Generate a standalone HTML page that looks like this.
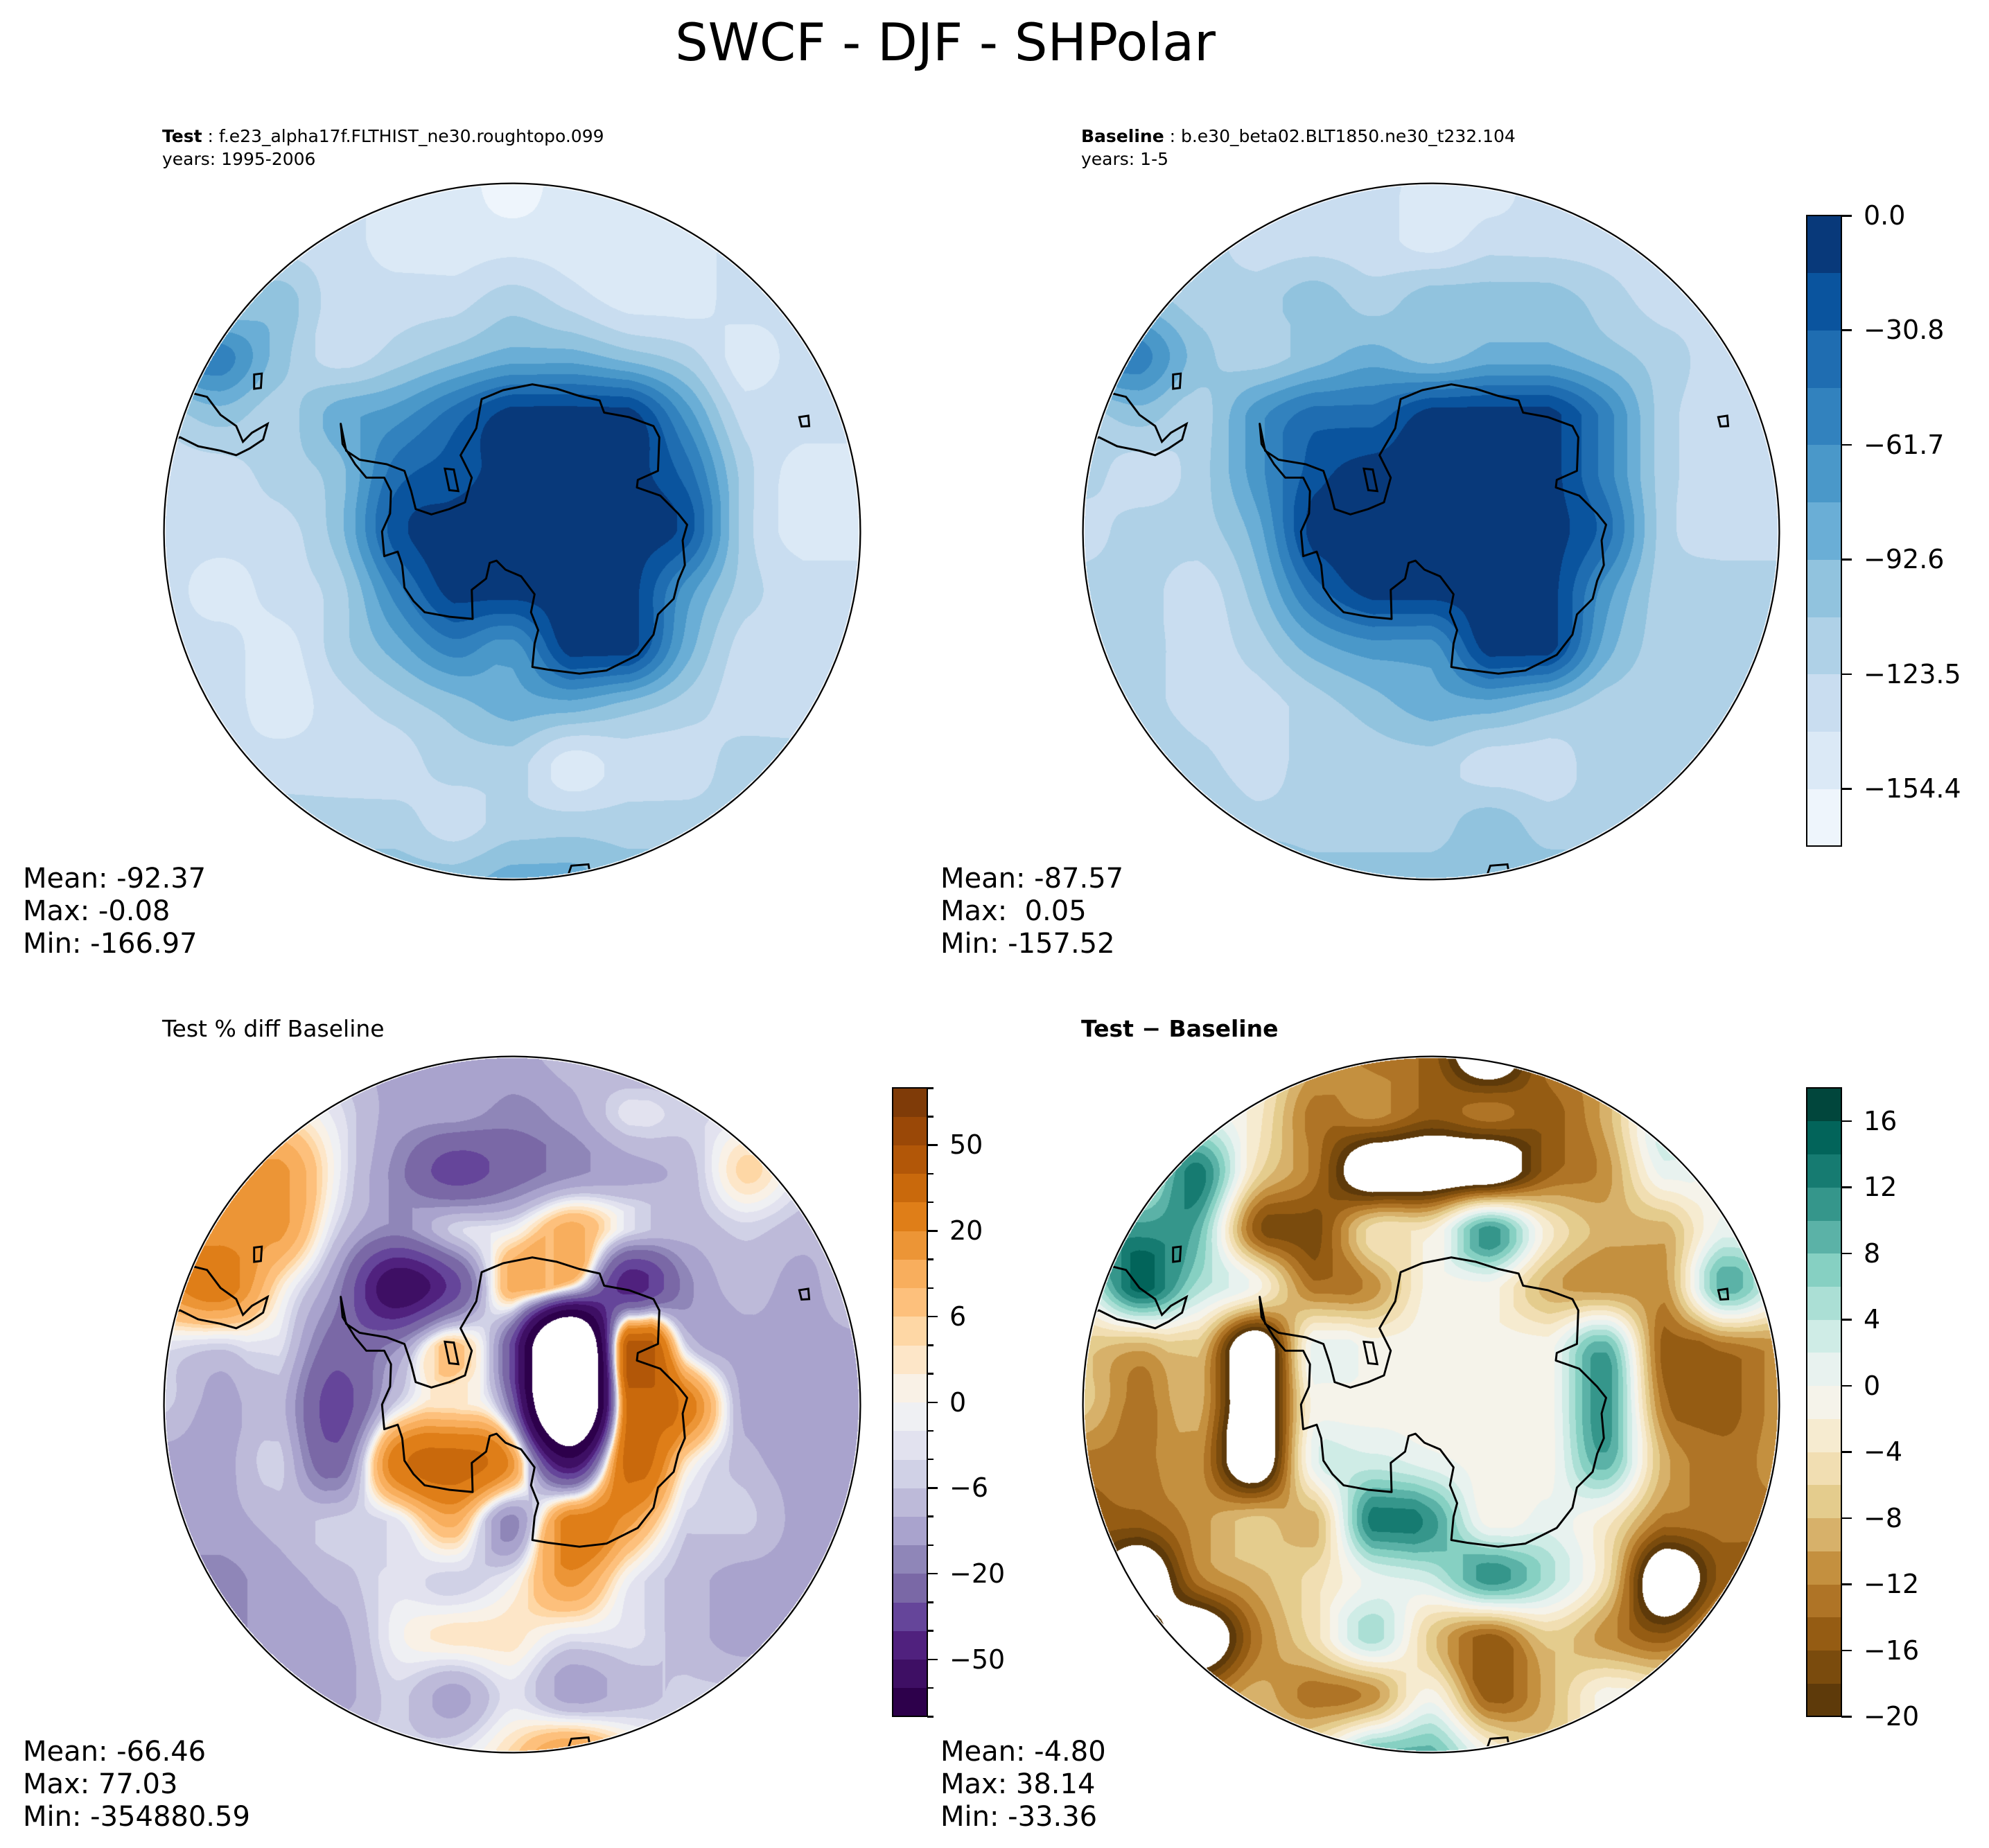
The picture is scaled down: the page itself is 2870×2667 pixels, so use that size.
<!DOCTYPE html>
<html><head><meta charset="utf-8"><title>SWCF - DJF - SHPolar</title>
<style>
html,body{margin:0;padding:0;background:#fff;}
#page{position:relative;width:2870px;height:2667px;overflow:hidden;background:#fff;font-family:"DejaVu Sans","Liberation Sans",sans-serif;color:#000;}
.abs{position:absolute;white-space:nowrap;}
.map{position:absolute;width:1010px;height:1010px;}
.map canvas,.map svg{position:absolute;left:0;top:0;width:1010px;height:1010px;}
.stat{position:absolute;font-size:40px;line-height:47px;white-space:pre;}
.sub{position:absolute;font-size:25px;line-height:33px;white-space:nowrap;}
.cbar{position:absolute;border:2.5px solid #000;box-sizing:border-box;}
.tick{position:absolute;height:2.5px;background:#000;}
.tlab{position:absolute;font-size:38px;line-height:38px;white-space:nowrap;transform:translateY(-50%);}
</style></head>
<body>
<div id="page">
  <div class="abs" style="left:0;width:2728px;text-align:center;top:18px;font-size:75px;line-height:86px;">SWCF - DJF - SHPolar</div>

  <div class="sub" style="left:234px;top:180px;"><b>Test</b> : f.e23_alpha17f.FLTHIST_ne30.roughtopo.099<br>years: 1995-2006</div>
  <div class="sub" style="left:1560px;top:180px;"><b>Baseline</b> : b.e30_beta02.BLT1850.ne30_t232.104<br>years: 1-5</div>
  <div class="abs" style="left:234px;top:1466px;font-size:33px;line-height:38px;">Test % diff Baseline</div>
  <div class="abs" style="left:1560px;top:1466px;font-size:33px;line-height:38px;font-weight:bold;">Test − Baseline</div>

  <div class="map" style="left:234px;top:262px;"><canvas id="c0" width="1010" height="1010"></canvas><svg id="s0" viewBox="0 0 1560 1560"></svg></div>
  <div class="map" style="left:1560px;top:262px;"><canvas id="c1" width="1010" height="1010"></canvas><svg id="s1" viewBox="0 0 1560 1560"></svg></div>
  <div class="map" style="left:234px;top:1522px;"><canvas id="c2" width="1010" height="1010"></canvas><svg id="s2" viewBox="0 0 1560 1560"></svg></div>
  <div class="map" style="left:1560px;top:1522px;"><canvas id="c3" width="1010" height="1010"></canvas><svg id="s3" viewBox="0 0 1560 1560"></svg></div>

  <div class="stat" style="left:33px;top:1245px;">Mean: -92.37
Max: -0.08
Min: -166.97</div>
  <div class="stat" style="left:1357px;top:1245px;">Mean: -87.57
Max:  0.05
Min: -157.52</div>
  <div class="stat" style="left:33px;top:2505px;">Mean: -66.46
Max: 77.03
Min: -354880.59</div>
  <div class="stat" style="left:1357px;top:2505px;">Mean: -4.80
Max: 38.14
Min: -33.36</div>

  <div id="cb0" class="abs" style="left:2607px;top:311px;width:50px;height:910px;"></div>
  <div id="cb2" class="abs" style="left:1288px;top:1570px;width:50px;height:907px;"></div>
  <div id="cb3" class="abs" style="left:2607px;top:1570px;width:50px;height:907px;"></div>
</div>
<script>
// ---------- data (grid samples, 13x13 over each map's bounding square) ----------
const testValues = [
[-131,-131,-131,-131,-147,-147,-162,-147,-147,-147,-131,-131,-131],
[-116,-116,-131,-131,-147,-147,-147,-147,-147,-147,-131,-131,-131],
[-100,-116,-100,-131,-131,-131,-116,-131,-147,-147,-131,-131,-131],
[-69,-54,-100,-131,-116,-100,-85,-85,-100,-116,-147,-131,-131],
[-116,-100,-116,-85,-69,-39,-8,-8,-8,-69,-131,-131,-131],
[-131,-131,-116,-100,-39,-23,-8,-8,-8,-39,-116,-147,-147],
[-131,-131,-131,-100,-23,-8,-8,-8,-8,-23,-116,-147,-147],
[-131,-147,-131,-116,-54,-8,-8,-8,-8,-69,-116,-131,-131],
[-131,-131,-147,-116,-85,-54,-69,-8,-8,-85,-131,-131,-131],
[-131,-131,-147,-131,-116,-100,-85,-85,-100,-116,-131,-131,-131],
[-116,-131,-131,-131,-131,-116,-116,-147,-131,-131,-116,-116,-116],
[-100,-100,-116,-116,-116,-131,-116,-116,-116,-116,-116,-100,-100],
[-100,-100,-100,-100,-100,-100,-85,-85,-100,-100,-100,-100,-100]];
const baselineValues = [
[-116,-116,-116,-116,-131,-131,-147,-147,-131,-131,-131,-131,-131],
[-116,-116,-116,-131,-131,-131,-147,-131,-131,-131,-131,-131,-131],
[-100,-100,-116,-116,-100,-116,-100,-100,-100,-116,-131,-131,-131],
[-54,-54,-100,-116,-100,-85,-100,-85,-85,-100,-116,-131,-131],
[-116,-100,-116,-69,-39,-39,-8,-8,-8,-54,-116,-131,-131],
[-116,-131,-116,-69,-23,-8,-8,-8,-8,-54,-116,-131,-131],
[-131,-116,-116,-85,-8,-8,-8,-8,-8,-39,-116,-131,-131],
[-116,-116,-131,-100,-39,-8,-8,-8,-8,-69,-116,-116,-116],
[-116,-116,-131,-116,-85,-69,-69,-8,-8,-85,-116,-116,-116],
[-116,-116,-131,-131,-116,-100,-85,-85,-100,-116,-116,-116,-116],
[-100,-100,-116,-131,-116,-116,-116,-131,-131,-116,-116,-116,-100],
[-100,-100,-100,-116,-116,-116,-116,-100,-116,-116,-116,-100,-100],
[-100,-100,-100,-85,-100,-100,-100,-100,-100,-100,-100,-100,-100]];
const pdiffValues = [
[-8,-8,-8,-8,-12,-12,-12,-8,-12,-12,-8,-8,-8],
[3,3,3,-3,-12,-12,-17,-12,-3,-5,-3,-3,-3],
[17,12,17,-1,-17,-35,-25,-17,-12,-8,5,-3,-3],
[17,17,17,-5,-17,-5,-1,12,-3,-8,-5,-8,-8],
[17,25,3,-17,-60,-35,12,-1,-45,-17,-8,-12,-3],
[-3,-5,-3,-25,-17,8,-35,-200,45,-5,-12,-12,-12],
[-5,-12,-8,-35,-5,3,-25,-200,35,25,-12,-12,-12],
[-12,-12,-5,-25,25,35,17,-60,35,3,-8,-12,-12],
[-12,-12,-8,-5,-3,12,-17,25,17,-5,-5,-12,-12],
[-17,-17,-12,-8,-3,-5,-1,17,-1,-8,-12,-12,-12],
[-17,-17,-12,-12,-1,3,3,-3,-3,-8,-12,-8,-8],
[-12,-12,-8,-12,-5,-12,-3,-12,-8,-5,-5,-8,-8],
[-8,-8,-8,-5,-5,-3,5,17,5,-5,-5,-8,-8]];
const diffValues = [
[-3,-3,-3,-3,-9,-13,-15,-26,-13,-11,-7,-3,-3],
[1,1,1,-3,-13,-11,-15,-13,-15,-9,3,-1,-1],
[5,1,13,-5,-13,-26,-26,-26,-15,-11,1,-1,-1],
[11,11,9,-15,-17,-5,-3,11,-3,-9,-9,1,1],
[1,15,5,-1,-13,-11,-1,-1,-9,-11,-11,9,1],
[-7,-9,-7,-26,1,-1,-1,-1,-1,9,-15,-13,-11],
[-7,-13,-9,-26,-1,-1,-1,-1,-1,11,-13,-15,-11],
[-13,-13,-11,-26,1,3,1,-1,-1,9,-9,-13,-11],
[-15,-15,-11,-7,-9,13,11,-1,1,-3,-13,-13,-13],
[-15,-26,-13,-9,-5,1,3,11,5,-5,-26,-15,-15],
[-13,-13,-26,-13,-5,5,-7,-15,-7,-11,-15,-7,-7],
[-11,-11,-13,-9,-13,-11,-1,-15,-9,-1,-3,-3,-3],
[-7,-7,-7,-7,-3,9,9,-1,-7,-3,-3,-3,-3]];
// contour levels and tick labels
const bluesLevels = [-169.8,-154.36,-138.93,-123.49,-108.05,-92.62,-77.18,-61.75,-46.31,-30.87,-15.44,0];
const bluesTicks = [0.0,-30.8,-61.7,-92.6,-123.5,-154.4];
const pdiffLevels = [-100,-70,-50,-40,-30,-20,-15,-10,-6,-4,-2,0,2,4,6,10,15,20,30,40,50,70,100];
const pdiffTicks = [-50,-20,-6,0,6,20,50];
const diffLevels = [-20,-18,-16,-14,-12,-10,-8,-6,-4,-2,0,2,4,6,8,10,12,14,16,18];
const diffTicks = [-20,-16,-12,-8,-4,0,4,8,12,16];
// coastline outlines (map-space units, 0..1560)
const antarctica = [[398,540],[410,600],[440,620],[500,630],[540,645],[555,690],[565,730],[600,742],[640,730],[675,715],[690,660],[665,610],[700,550],[712,485],[760,465],[825,452],[880,462],[930,478],[975,488],[985,515],[1040,525],[1095,545],[1108,570],[1105,645],[1060,665],[1058,682],[1110,700],[1150,740],[1170,765],[1160,800],[1165,855],[1150,890],[1140,930],[1105,965],[1095,1010],[1060,1055],[990,1090],[930,1097],[860,1088],[825,1082],[830,1030],[838,1000],[822,960],[830,920],[800,880],[765,865],[745,845],[730,850],[722,885],[690,910],[692,975],[640,970],[585,960],[560,935],[540,905],[535,855],[525,825],[495,835],[490,780],[508,740],[510,690],[495,660],[455,660],[430,630],[402,585]];
const southAmerica = [[60,470],[100,480],[130,520],[165,545],[180,580],[200,560],[235,540],[225,575],[195,595],[165,610],[130,600],[80,590],[40,570],[25,575]];
const islands = [
 [[205,430],[222,428],[220,460],[205,462]],
 [[1420,525],[1440,522],[1442,545],[1425,546]],
 [[900,1560],[912,1525],[950,1522],[955,1550]],
 [[630,640],[650,642],[660,690],[640,688]]];

// ---------- palettes (style) ----------
const bluesColors = ['#eef5fc','#dbe9f6','#c9ddf0','#afd1e7','#91c3de','#6aaed6','#4a98c9','#3282be','#1f6db1','#0a549e','#08397a'];
const puorColors = ['#2d004b','#3e0f64','#50217e','#65459a','#7a68a6','#8f86b8','#a9a3cd','#bdbad9','#d0d1e6','#e2e2ef','#eff0f3','#f9f1e6','#fde6c8','#fed7a5','#fdc07c','#f8ae5d','#ec9536','#df7e18','#c9690c','#b25708','#9a4807','#7f3b08'];
const brbgColors = ['#5e3a0a','#7a4b0d','#955c13','#af7426','#c4903f','#d7b16a','#e4cc8d','#f1deb2','#f6ebd0','#f5f3ea','#e8f2ef','#cfece6','#abdfd5','#86d0c2','#5bb2a7','#35968b','#167b71','#02645a','#01463c'];

function hex(c){return [parseInt(c.slice(1,3),16),parseInt(c.slice(3,5),16),parseInt(c.slice(5,7),16)];}
function bandIndex(levels,v){
  if(v<levels[0]||v>levels[levels.length-1]) return -1;
  for(let i=0;i<levels.length-1;i++){ if(v<levels[i+1]) return i; }
  return levels.length-2;
}
function cr(p0,p1,p2,p3,t){
  const v=0.5*((2*p1)+(-p0+p2)*t+(2*p0-5*p1+4*p2-p3)*t*t+(-p0+3*p1-3*p2+p3)*t*t*t);
  return Math.max(Math.min(v,Math.max(p1,p2)),Math.min(p1,p2));
}
function sample(grid,x,y){ // x,y in 0..1 -> clamped Catmull-Rom over grid
  const n=grid.length-1;
  const gx=x*n, gy=y*n;
  const i=Math.min(Math.floor(gy),n-1), j=Math.min(Math.floor(gx),n-1);
  const fx=gx-j, fy=gy-i;
  const g=(r,c)=>grid[Math.max(0,Math.min(n,r))][Math.max(0,Math.min(n,c))];
  const rows=[];
  for(let r=-1;r<=2;r++) rows.push(cr(g(i+r,j-1),g(i+r,j),g(i+r,j+1),g(i+r,j+2),fx));
  return cr(rows[0],rows[1],rows[2],rows[3],fy);
}
function drawField(id,grid,levels,colors){
  const cv=document.getElementById(id), ctx=cv.getContext('2d');
  const W=cv.width, img=ctx.createImageData(W,W), rgb=colors.map(hex);
  const cx=W/2, R=W/2-5;
  for(let y=0;y<W;y++){for(let x=0;x<W;x++){
    const p=(y*W+x)*4; const dx=x+0.5-cx, dy=y+0.5-cx;
    let col=[255,255,255];
    if(dx*dx+dy*dy<=R*R){
      const k=bandIndex(levels,sample(grid,(x+0.5)/W,(y+0.5)/W));
      if(k>=0) col=rgb[k];
    }
    img.data[p]=col[0];img.data[p+1]=col[1];img.data[p+2]=col[2];img.data[p+3]=255;
  }}
  ctx.putImageData(img,0,0);
}
drawField('c0',testValues,bluesLevels,bluesColors);
drawField('c1',baselineValues,bluesLevels,bluesColors);
drawField('c2',pdiffValues,pdiffLevels,puorColors);
drawField('c3',diffValues,diffLevels,brbgColors);

const NS='http://www.w3.org/2000/svg';
function pts(a){return a.map(p=>p.join(',')).join(' ');}
function drawCoast(id,k){
  const s=document.getElementById(id);
  const defs=document.createElementNS(NS,'defs');
  const cp=document.createElementNS(NS,'clipPath'); cp.setAttribute('id','clip'+k);
  const cc=document.createElementNS(NS,'circle'); cc.setAttribute('cx',780);cc.setAttribute('cy',780);cc.setAttribute('r',772);
  cp.appendChild(cc); defs.appendChild(cp); s.appendChild(defs);
  const g=document.createElementNS(NS,'g'); g.setAttribute('clip-path','url(#clip'+k+')');
  
  
  const ant=document.createElementNS(NS,'polygon');
  ant.setAttribute('points',pts(antarctica));ant.setAttribute('fill','none');ant.setAttribute('stroke','#000');ant.setAttribute('stroke-width','4.5');ant.setAttribute('stroke-linejoin','round');
  
  
  g.appendChild(ant);
  const sa=document.createElementNS(NS,'polyline');
  sa.setAttribute('points',pts(southAmerica));sa.setAttribute('fill','none');sa.setAttribute('stroke','#000');sa.setAttribute('stroke-width','4.5');
  
  
  g.appendChild(sa);
  islands.forEach(isl=>{
    const p=document.createElementNS(NS,'polygon');
    p.setAttribute('points',pts(isl));p.setAttribute('fill','none');p.setAttribute('stroke','#000');p.setAttribute('stroke-width','4.5');
    
    
    g.appendChild(p);
  });
  s.appendChild(g);
  const ring=document.createElementNS(NS,'circle');
  ring.setAttribute('cx',780);ring.setAttribute('cy',780);ring.setAttribute('r',776);ring.setAttribute('fill','none');ring.setAttribute('stroke','#000');ring.setAttribute('stroke-width','3.5');
  
  
  s.appendChild(ring);
}
['s0','s1','s2','s3'].forEach((id,k)=>drawCoast(id,k));

function colorbar(id,colors,ticks,posFn,minorCount,fmt){
  const el=document.getElementById(id); const H=el.offsetHeight, n=colors.length;
  colors.forEach((c,i)=>{
    const b=document.createElement('div');
    
    
    const top=H*(n-1-i)/n;
    b.style.cssText='position:absolute;left:0;width:50px;top:'+top+'px;height:'+(H/n+0.6)+'px;background:'+c;
    el.appendChild(b);
  });
  const frame=document.createElement('div');
  
  
  frame.className='cbar'; frame.style.cssText+='left:-1px;top:-1px;width:52px;height:'+(H+2)+'px;';
  el.appendChild(frame);
  if(minorCount){
    for(let i=0;i<=minorCount;i++){
      const t=document.createElement('div');
      
      
      t.className='tick'; t.style.left='50px'; t.style.width='9px'; t.style.top=(H-H*i/minorCount-1)+'px';
      el.appendChild(t);
    }
  }
  ticks.forEach(v=>{
    const y=posFn(v,H);
    const t=document.createElement('div');
    
    
    t.className='tick'; t.style.left='50px'; t.style.width='15px'; t.style.top=(y-1)+'px';
    el.appendChild(t);
    const l=document.createElement('div');
    
    
    l.className='tlab'; l.style.left='82px'; l.style.top=y+'px';
    l.textContent=fmt(v);
    el.appendChild(l);
  });
}
function minus(s){return s.replace('-','\u2212');}
colorbar('cb0',bluesColors,bluesTicks,(v,H)=>H*(bluesLevels[bluesLevels.length-1]-v)/(bluesLevels[bluesLevels.length-1]-bluesLevels[0]),0,v=>minus(v.toFixed(1)));
colorbar('cb2',puorColors,pdiffTicks,(v,H)=>H-H*pdiffLevels.indexOf(v)/(pdiffLevels.length-1),22,v=>minus(String(v)));
colorbar('cb3',brbgColors,diffTicks,(v,H)=>H-H*(v-diffLevels[0])/(diffLevels[diffLevels.length-1]-diffLevels[0]),0,v=>minus(String(v)));
</script>
</body></html>
